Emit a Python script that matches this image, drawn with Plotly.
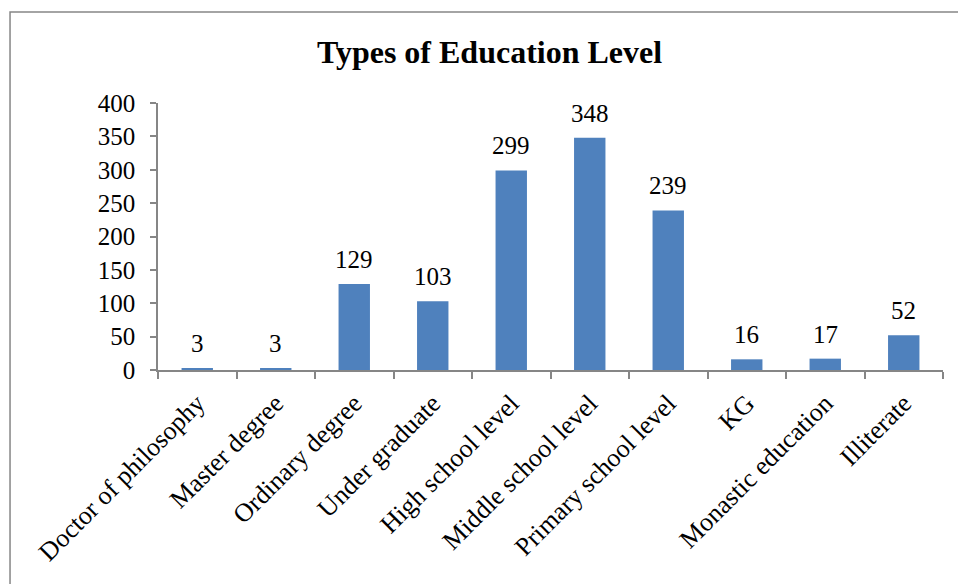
import plotly.graph_objects as go

categories = ["Doctor of philosophy", "Master degree", "Ordinary degree", "Under graduate",
              "High school level", "Middle school level", "Primary school level", "KG",
              "Monastic education", "Illiterate"]
values = [3, 3, 129, 103, 299, 348, 239, 16, 17, 52]
y_ticks = [0, 50, 100, 150, 200, 250, 300, 350, 400]

SERIF = "Liberation Serif, Times New Roman, serif"
AXIS = "#868686"

fig = go.Figure()
fig.add_trace(go.Bar(x=categories, y=values, marker=dict(color="#4F81BD", line=dict(width=0)),
                     width=0.4, hoverinfo="x+y"))

for c, v in zip(categories, values):
    fig.add_annotation(x=c, y=v, text=str(v), showarrow=False, yanchor="bottom",
                       yshift=9, font=dict(family=SERIF, size=25, color="black"))

# chart-area border (left and top visible)
fig.add_shape(type="rect", xref="paper", yref="paper", x0=-0.1885, x1=1.2, y0=-1.2, y1=1.341,
              line=dict(color="#868686", width=1.5), layer="below")

fig.update_layout(
    width=958, height=584,
    margin=dict(l=158, r=15, t=103, b=214),
    paper_bgcolor="white", plot_bgcolor="white",
    showlegend=False,
    title=dict(text="<b>Types of Education Level</b>", x=0.511, xanchor="center",
               y=1 - 52 / 584, yanchor="middle",
               font=dict(family=SERIF, size=32, color="black")),
    font=dict(family=SERIF, color="black"),
    bargap=0.6,
)
fig.update_xaxes(
    type="category", tickangle=-45, tickfont=dict(family=SERIF, size=26, color="black"),
    showline=True, linecolor=AXIS, linewidth=1.5, ticks="outside", tickson="boundaries",
    ticklen=7, tickcolor=AXIS, tickwidth=1.5, showgrid=False, zeroline=False,
    ticklabelstandoff=6,
)
fig.update_yaxes(
    range=[0, 400], tickvals=y_ticks, tickfont=dict(family=SERIF, size=25, color="black"),
    showline=True, linecolor=AXIS, linewidth=1.5, ticks="outside", ticklen=6,
    tickcolor=AXIS, tickwidth=1.5, showgrid=False, zeroline=False,
    ticklabelstandoff=10,
)

fig.write_html("out.html")
